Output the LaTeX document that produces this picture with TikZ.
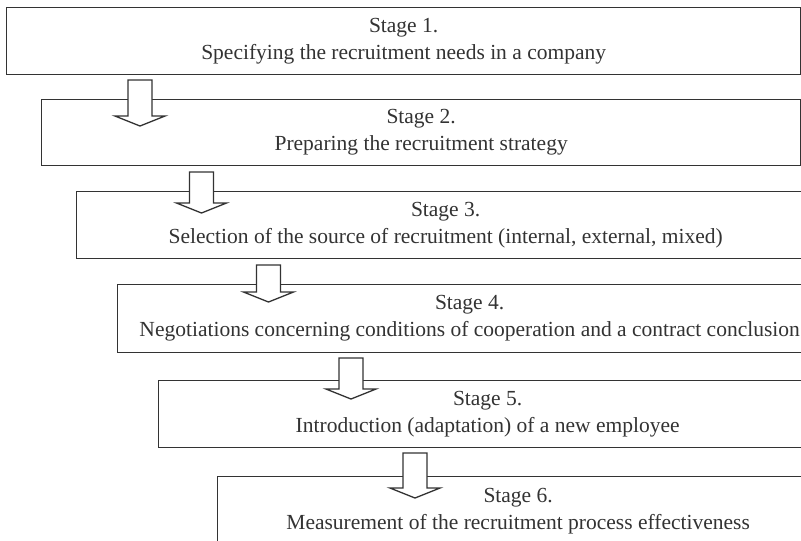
\documentclass[tikz,border=0pt]{standalone}
\usepackage{fontspec}
\setmainfont{Liberation Serif}

\definecolor{linegray}{HTML}{333333}

\tikzset{
  stage/.style={draw=linegray, line width=1.3pt, fill=white, anchor=north west,
    align=center, inner sep=0pt, text=linegray,
    font=\fontsize{21.5}{27}\selectfont},
  blockarrow/.style={draw=linegray, line width=1.3pt, fill=white, line join=miter}
}

\begin{document}
\begin{tikzpicture}[x=1pt, y=-1pt]

        % Page frame (also cuts the boxes that run off to the right)
        \clip (0,0) rectangle (801,541);
        \fill[white] (0,0) rectangle (801,541);

        % Stage boxes, each one moved a bit to the right
        \node[stage, minimum width=794pt, minimum height=67pt] (s1) at (6,7)
            {Stage 1.\\ Specifying the recruitment needs in a company};
        \node[stage, minimum width=759pt, minimum height=66pt] (s2) at (41,99)
            {Stage 2.\\ Preparing the recruitment strategy};
        \node[stage, minimum width=738pt, minimum height=67pt] (s3) at (76,191)
            {Stage 3.\\ Selection of the source of recruitment (internal, external, mixed)};
        \node[stage, minimum width=704pt, minimum height=68pt] (s4) at (117,284)
            {Stage 4.\\ Negotiations concerning conditions of cooperation and a contract conclusion};
        \node[stage, minimum width=658pt, minimum height=67pt] (s5) at (158,380)
            {Stage 5.\\ Introduction (adaptation) of a new employee};
        \node[stage, minimum width=601pt, minimum height=70pt] (s6) at (217,476)
            {Stage 6.\\ Measurement of the recruitment process effectiveness};

        % Block arrows between the stages (x / top / tip)
        \foreach \x/\top/\tip in {140/80/126, 201.5/172/213, 268.5/265/302, 351/358/399, 415/453/498}
            \draw[blockarrow] ({\x-12},\top) -- ({\x+12},\top) -- ({\x+12},{\tip-10})
                -- ({\x+25},{\tip-10}) -- (\x,\tip) -- ({\x-25},{\tip-10})
                -- ({\x-12},{\tip-10}) -- cycle;

\end{tikzpicture}
\end{document}
